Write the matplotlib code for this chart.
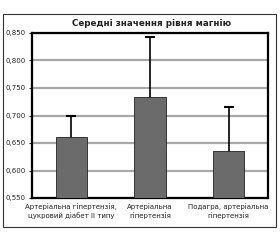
import matplotlib.pyplot as plt
from matplotlib.patches import Rectangle
from matplotlib.ticker import FuncFormatter

categories = ["Артеріальна гіпертензія,\nцукровий діабет ІІ типу",
              "Артеріальна\nгіпертензія",
              "Подагра, артеріальна\nгіпертензія"]
means = [0.660, 0.734, 0.636]
errors = [0.039, 0.109, 0.079]
yticks = [0.55, 0.60, 0.65, 0.70, 0.75, 0.80, 0.85]

fig = plt.figure(figsize=(2.8, 2.4), dpi=100)
fig.patches.append(Rectangle((0.011, 0.054), 0.975, 0.888, transform=fig.transFigure,
                             fill=False, edgecolor="#333333", linewidth=0.8))
ax = fig.add_axes([0.114, 0.175, 0.843, 0.6875])

x = range(len(categories))
# error bars sit behind the bars so only the upper half shows
ax.errorbar(x, means, yerr=errors, fmt="none", ecolor="black",
            elinewidth=1.2, capsize=3.5, capthick=1.5, zorder=2)
ax.bar(x, means, width=0.4, color="#6b6b6b", edgecolor="#222222", linewidth=0.6, zorder=3)

ax.set_xlim(-0.5, 2.5)
ax.set_ylim(0.55, 0.85)
ax.set_yticks(yticks)
ax.yaxis.set_major_formatter(FuncFormatter(lambda v, p: f"{v:.3f}".replace(".", ",")))
ax.yaxis.grid(True, color="#a8a8a8", linewidth=1.6, zorder=0)
ax.set_axisbelow(True)
ax.set_xticks(list(x))
ax.set_xticklabels(categories, fontsize=5, color="#222222")
ax.tick_params(axis="x", length=0, pad=4)
ax.tick_params(axis="y", labelsize=5, length=2.5, width=0.8, pad=2, colors="#222222")
for s in ax.spines.values():
    s.set_linewidth(1.6)
    s.set_color("black")

fig.text(0.54, 0.903, "Середні значення рівня магнію", ha="center", va="center",
         fontsize=6.3, fontweight="bold", color="#222222")

fig.savefig("out.png", dpi=100)
